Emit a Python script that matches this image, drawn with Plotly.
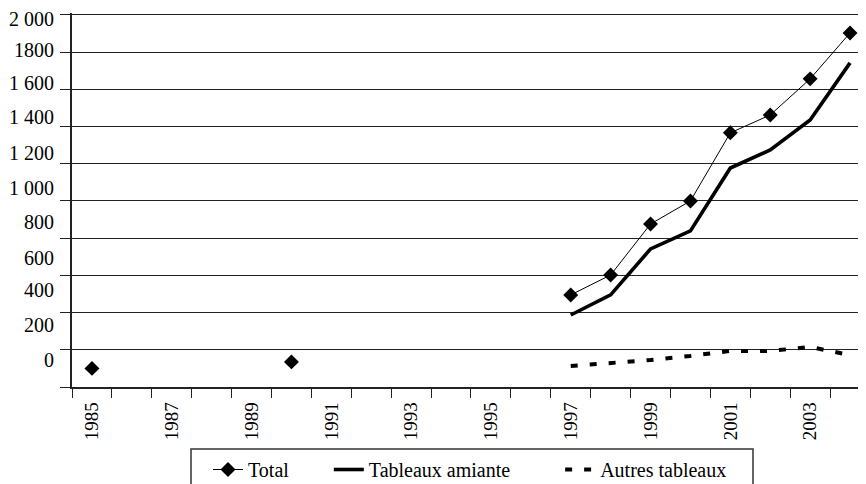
import plotly.graph_objects as go

# ---- data ----
years = list(range(1985, 2005))
total = [100, None, None, None, None, 135, None, None, None, None, None, None,
         495, 602, 876, 1000, 1366, 1462, 1656, 1903]
amiante = [None] * 12 + [387, 495, 742, 839, 1177, 1274, 1435, 1742]
autres = [None] * 12 + [113, 129, 145, 167, 194, 194, 215, 172]

y_gridvals = [0, 200, 400, 600, 800, 1000, 1200, 1400, 1600, 1800, 2000]
y_ticktext = ["0", "200", "400", "600", "800", "1 000", "1 200", "1 400", "1 600", "1800", "2 000"]
# the printed labels sit slightly off their grid lines in the source
y_label_pos = [145, 333, 522, 694, 887, 1070, 1258, 1452, 1634, 1812, 1980]
x_labels = [1985, 1987, 1989, 1991, 1993, 1995, 1997, 1999, 2001, 2003]

NB = "\u00a0"
names = ["Total" + NB * 7, "Tableaux amiante" + NB * 9, "Autres tableaux"]

FONT = "Liberation Serif"
LEG = dict(family=FONT, size=20, color="black")
YT = dict(family=FONT, size=20, color="black")
XT = dict(family=FONT, size=19, color="black")

# the page body adds an 8px offset; figure is sized to fit the window
W, H = 858, 476
ML, MR, MT, MB = 64, 0, 5, 97
PW, PH = W - ML - MR, H - MT - MB
YMAX = 2010


def px_to_paper_x(fx):
    return (fx - ML) / PW


def px_to_paper_y(fy):
    return (H - MB - fy) / PH


fig = go.Figure()
fig.add_trace(go.Scatter(
    x=years, y=total, name=names[0], mode="lines+markers",
    line=dict(color="black", width=1),
    marker=dict(symbol="diamond", size=11.5, color="black"),
    connectgaps=False))
fig.add_trace(go.Scatter(
    x=years, y=amiante, name=names[1], mode="lines",
    line=dict(color="black", width=3.6), connectgaps=False))
fig.add_trace(go.Scatter(
    x=years, y=autres, name=names[2], mode="lines",
    line=dict(color="black", width=4, dash="7px,12px"), connectgaps=False))
fig.add_trace(go.Scatter(x=[years[0]], y=[None], yaxis="y2", showlegend=False,
                         hoverinfo="skip"))

# legend frame
fig.add_shape(type="rect", xref="paper", yref="paper",
              x0=px_to_paper_x(183), x1=px_to_paper_x(745),
              y0=px_to_paper_y(490), y1=px_to_paper_y(441),
              line=dict(color="#333", width=1.5), fillcolor="rgba(0,0,0,0)", layer="above")

fig.update_layout(
    template="none",
    width=W, height=H,
    margin=dict(l=ML, r=MR, t=MT, b=MB, pad=0),
    paper_bgcolor="white", plot_bgcolor="white",
    font=dict(family=FONT, size=19, color="black"),
    showlegend=True,
    legend=dict(
        orientation="h", xref="container", yref="container",
        x=200 / W, xanchor="left", y=1 - 442 / H, yanchor="top",
        borderwidth=0, bgcolor="rgba(0,0,0,0)",
        font=LEG,
    ),
    xaxis=dict(
        range=[1984.5, 2004.4], tickmode="array", tickvals=x_labels,
        ticktext=[str(v) for v in x_labels], tickangle=-90, ticks="",
        ticklabelstandoff=6, tickfont=XT,
        showgrid=False, zeroline=False, showline=True, linecolor="#222", linewidth=1.5,
        minor=dict(tick0=1984.5, dtick=1, ticks="outside", ticklen=9,
                   tickcolor="#222", tickwidth=1.2, showgrid=False),
        automargin=False, fixedrange=True,
    ),
    yaxis=dict(
        range=[0, YMAX], tickmode="array", tickvals=y_gridvals, showticklabels=False,
        ticks="outside", ticklen=10, tickcolor="#222", tickwidth=1.2,
        showgrid=True, gridcolor="#222", gridwidth=1.2, zeroline=False,
        showline=True, linecolor="#222", linewidth=1.5, automargin=False,
    ),
    yaxis2=dict(
        range=[0, YMAX], overlaying="y", side="left", tickmode="array",
        tickvals=y_label_pos, ticktext=y_ticktext, ticks="", showgrid=False,
        zeroline=False, showline=False, ticklabelstandoff=17, automargin=False,
        ticklabeloverflow="allow", tickfont=YT,
    ),
)

fig.write_html("out.html")
